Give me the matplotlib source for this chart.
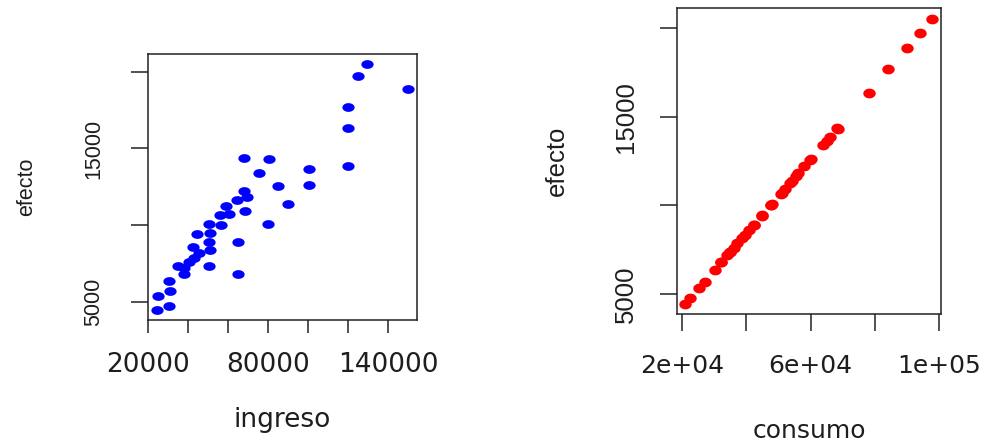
import matplotlib
matplotlib.use("Agg")
import matplotlib.pyplot as plt
import numpy as np
from matplotlib.path import Path

# values
efecto = [20500, 19750, 18900, 17700, 16350, 13850, 14350, 14300, 13400, 13650,
          12600, 12550, 11400, 10100, 8900, 6800, 12200, 11800, 11650, 10900,
          11250, 10700, 10650, 10000, 10050, 9400, 9450, 8900, 8600, 8350,
          8150, 7850, 7600, 7350, 7350, 7200, 6800, 6350, 5700, 5350, 4750, 4450]
ingreso = [129700, 124800, 149800, 120000, 120000, 120000, 67700, 80200, 75300, 100200,
           100200, 84800, 89700, 79800, 64700, 64700, 67700, 69300, 64300, 68500,
           59000, 60200, 55700, 56500, 50200, 44300, 51000, 50200, 42300, 50700,
           45200, 42700, 40200, 50200, 34800, 37700, 37700, 30500, 30700, 24700, 30500, 24300]
consumo = [97700, 94050, 89900, 84000, 78300, 66000, 68300, 68500, 63700, 65100,
           60100, 59700, 54300, 48000, 42200, 32200, 58000, 56200, 55400, 51900,
           53600, 51000, 50700, 47500, 47800, 44700, 44800, 42300, 40800, 39700,
           38700, 37100, 36100, 34800, 34800, 34000, 32200, 30100, 27000, 25100, 22300, 21000]

y_ticks = [5000, 10000, 15000, 20000]
y_ticklabels = ["5000", "", "15000", ""]
ingreso_ticks = [20000, 40000, 60000, 80000, 100000, 120000, 140000]
ingreso_ticklabels = ["20000", "", "", "80000", "", "", "140000"]
consumo_ticks = [20000, 40000, 60000, 80000, 100000]
consumo_ticklabels = ["2e+04", "", "6e+04", "", "1e+05"]

TXT = "#1e1e1e"


def ellipse(ratio):
    t = np.linspace(0, 2 * np.pi, 40)
    verts = np.column_stack([ratio * np.cos(t), np.sin(t)])
    return Path(verts, closed=True)


def style(ax, xlen, xpad, ypad, xfs, yfs):
    for s in ax.spines.values():
        s.set_linewidth(1.1)
        s.set_color("#222222")
    ax.tick_params(axis="x", direction="out", length=xlen, width=1.1, pad=xpad,
                   colors="#222222", labelcolor=TXT)
    ax.tick_params(axis="y", direction="out", length=12, width=1.1, pad=ypad,
                   colors="#222222", labelcolor=TXT)
    for lab in ax.get_xticklabels():
        lab.set_fontfamily("DejaVu Sans")
        lab.set_fontsize(xfs)
    for lab in ax.get_yticklabels():
        lab.set_fontfamily("Liberation Sans")
        lab.set_fontsize(yfs)
        lab.set_rotation(90)
        lab.set_verticalalignment("center")


fig = plt.figure(figsize=(9.81, 4.43), dpi=100)

ax1 = fig.add_axes([0.1509, 0.2777, 0.2742, 0.6005])
ax1.scatter(ingreso, efecto, s=78, marker=ellipse(1.4), color="#0000ff", linewidths=0)
ax1.set_xlim(19850, 154500)
ax1.set_ylim(3805, 21168)
ax1.set_xticks(ingreso_ticks, ingreso_ticklabels)
ax1.set_yticks(y_ticks, y_ticklabels)
style(ax1, 9.6, 13.5, 19.4, 19, 15.5)
ax1.set_xlabel("ingreso", fontfamily="DejaVu Sans", fontsize=19, color=TXT, va="top")
ax1.xaxis.set_label_coords(0.5, -0.327)
ax1.set_ylabel("efecto", fontfamily="Liberation Sans", fontsize=15.5, color=TXT)
ax1.yaxis.set_label_coords(-0.411, 0.5)

ax2 = fig.add_axes([0.6904, 0.2912, 0.2685, 0.6901])
ax2.scatter(consumo, efecto, s=80, marker=ellipse(1.27), color="#ff0000", linewidths=0)
ax2.set_xlim(18440, 100530)
ax2.set_ylim(3871, 21123)
ax2.set_xticks(consumo_ticks, consumo_ticklabels)
ax2.set_yticks(y_ticks, y_ticklabels)
style(ax2, 12, 16.8, 16.3, 18, 18.5)
ax2.set_xlabel("consumo", fontfamily="DejaVu Sans", fontsize=18, color=TXT, va="top")
ax2.xaxis.set_label_coords(0.5, -0.344)
ax2.set_ylabel("efecto", fontfamily="Liberation Sans", fontsize=18.5, color=TXT)
ax2.yaxis.set_label_coords(-0.413, 0.5)

fig.savefig("out.png", dpi=100, facecolor="white")
